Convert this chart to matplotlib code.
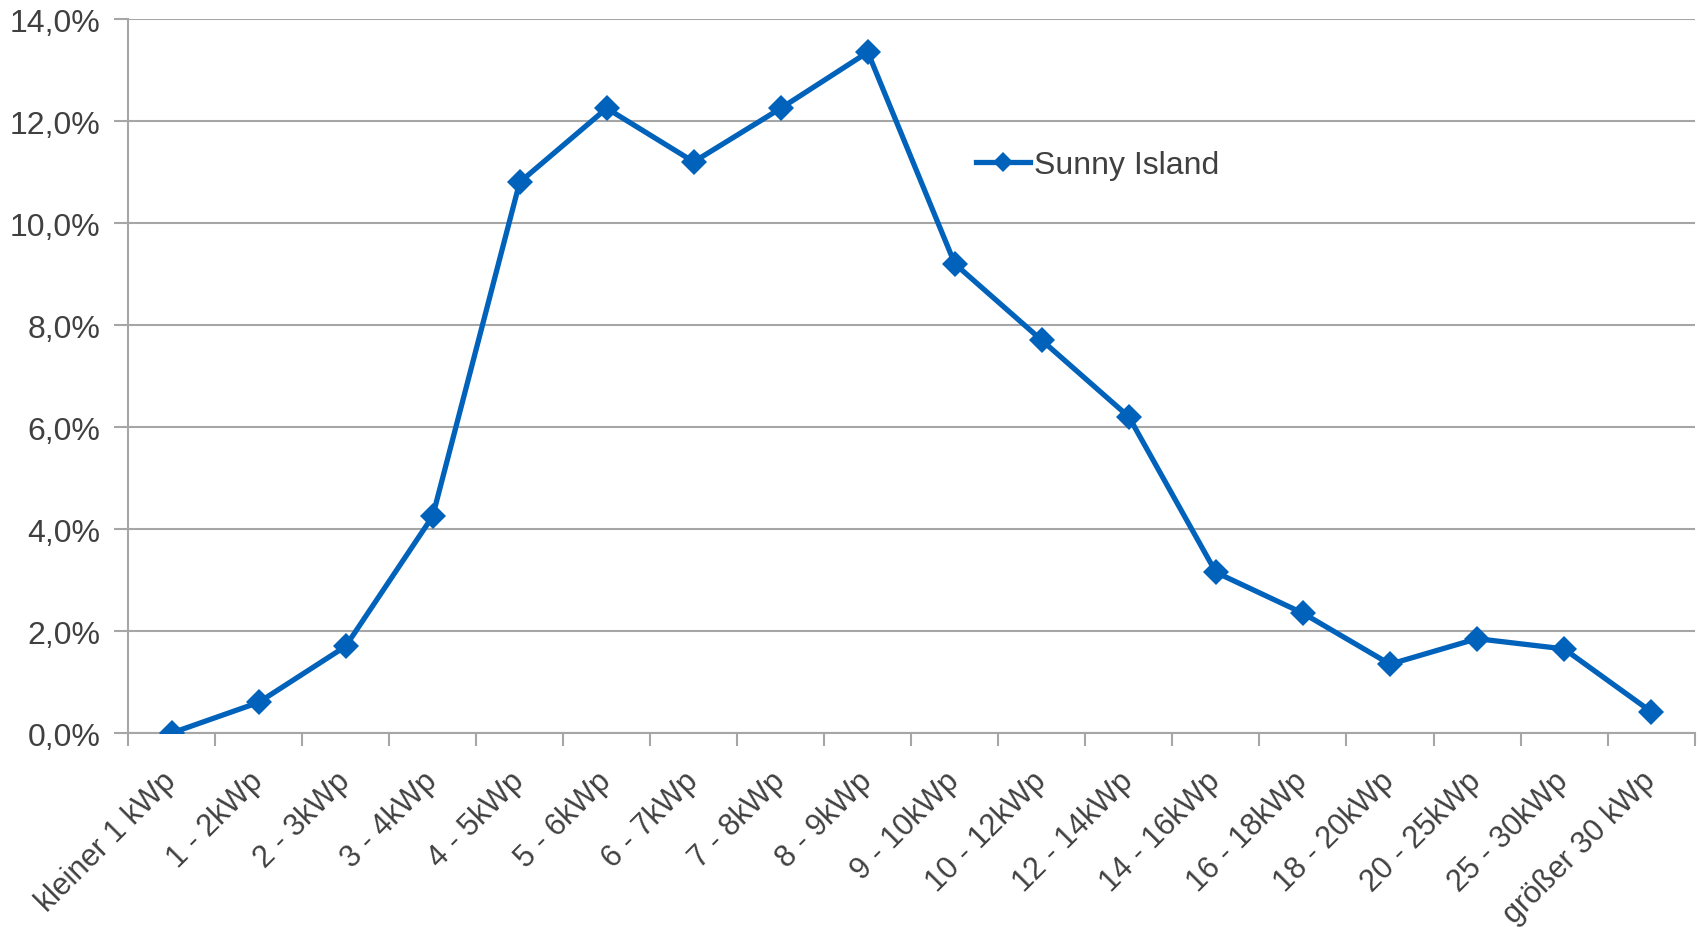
import matplotlib
matplotlib.use("Agg")
import matplotlib.pyplot as plt
from matplotlib.ticker import FuncFormatter, FixedLocator
import numpy as np

categories = [
    "kleiner 1 kWp", "1 - 2kWp", "2 - 3kWp", "3 - 4kWp", "4 - 5kWp", "5 - 6kWp",
    "6 - 7kWp", "7 - 8kWp", "8 - 9kWp", "9 - 10kWp", "10 - 12kWp", "12 - 14kWp",
    "14 - 16kWp", "16 - 18kWp", "18 - 20kWp", "20 - 25kWp", "25 - 30kWp", "größer 30 kWp",
]
sunny_island = [0.0, 0.6, 1.7, 4.25, 10.8, 12.25, 11.2, 12.25, 13.35,
                9.2, 7.7, 6.2, 3.15, 2.35, 1.35, 1.85, 1.65, 0.42]
y_ticks = [0, 2, 4, 6, 8, 10, 12, 14]

plt.rcParams["font.family"] = ["Liberation Sans", "DejaVu Sans"]
text_color = "#404040"
grid_color = "#A6A6A6"
line_color = "#0062BA"

fig = plt.figure(figsize=(16.98, 9.28), dpi=100)
ax = fig.add_axes([0.0754, 0.209, 0.9226, 0.7694])

x = np.arange(len(categories))
ax.plot(x, sunny_island, color=line_color, lw=3.8, marker="D", ms=13,
        markeredgewidth=0, label="Sunny Island", zorder=3, solid_joinstyle="round")

ax.set_xlim(-0.5, len(categories) - 0.5)
ax.set_ylim(0, 14)
ax.set_yticks(y_ticks)
ax.yaxis.set_major_formatter(FuncFormatter(lambda v, p: f"{v:.1f}%".replace(".", ",")))
ax.grid(axis="y", color=grid_color, lw=1.5, zorder=0)

ax.set_xticks(x)
ax.set_xticklabels(categories, rotation=45, ha="right", va="center", rotation_mode="anchor")
ax.xaxis.set_minor_locator(FixedLocator(np.arange(-0.5, len(categories), 1.0)))
ax.tick_params(axis="x", which="major", length=0, pad=31, labelsize=22, labelcolor=text_color)
ax.tick_params(axis="x", which="minor", length=9, width=1.5, color=grid_color)
ax.tick_params(axis="y", length=10, width=1.5, color=grid_color, labelsize=23,
               labelcolor=text_color, pad=10)

for side in ("top", "right"):
    ax.spines[side].set_visible(False)
for side in ("left", "bottom"):
    ax.spines[side].set_color(grid_color)
    ax.spines[side].set_linewidth(1.5)

leg = ax.legend(loc="center left", bbox_to_anchor=(0.523, 0.795), frameon=False,
                fontsize=23, handlelength=1.7, handletextpad=0.1, markerscale=0.8)
for t in leg.get_texts():
    t.set_color(text_color)

fig.savefig("out.png", dpi=100, facecolor="white")
